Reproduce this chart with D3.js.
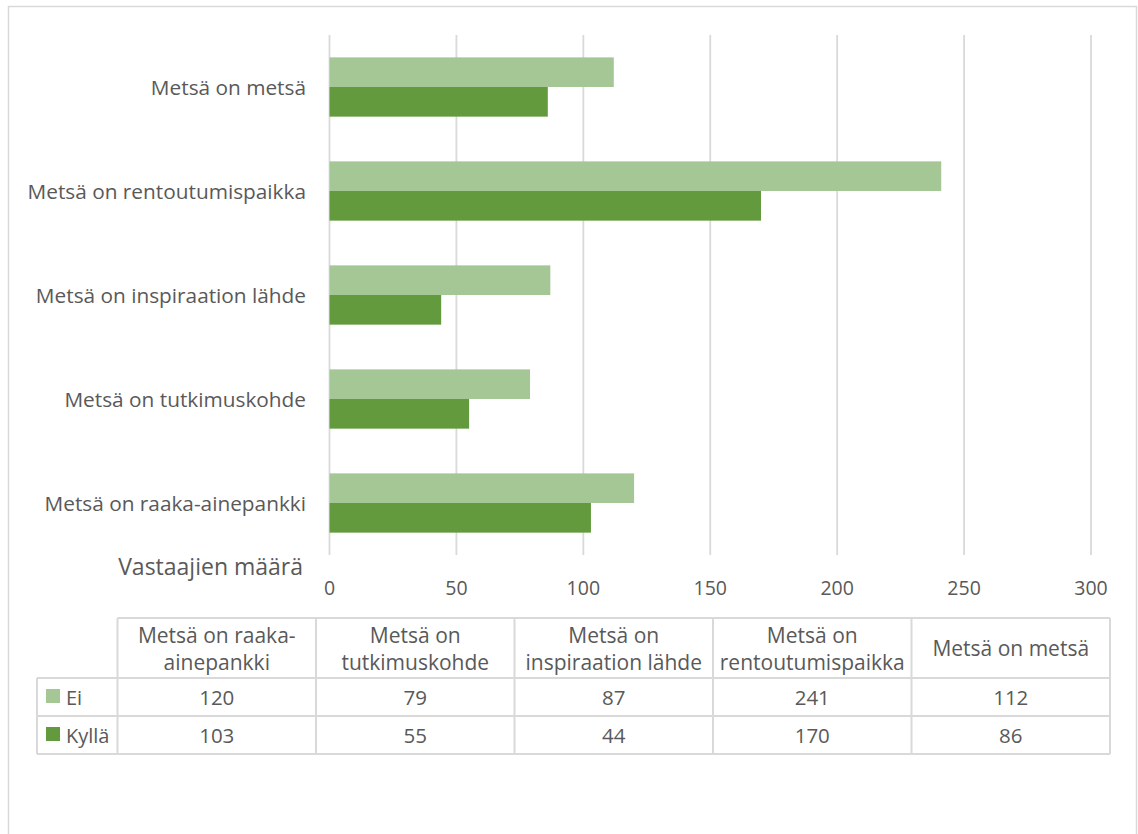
<!DOCTYPE html>
<html><head><meta charset="utf-8">
<script src="https://cdn.jsdelivr.net/npm/d3@7/dist/d3.min.js"></script>
<style>body{margin:0;background:#fff}svg{display:block}text{font-family:"Open Sans","Noto Sans",sans-serif;fill:#595959}</style>
</head><body><svg id="c" width="1138" height="834"></svg>
<script>
const categories = ["Metsä on raaka-ainepankki","Metsä on tutkimuskohde","Metsä on inspiraation lähde","Metsä on rentoutumispaikka","Metsä on metsä"];
const headerLines = [["Metsä on raaka-","ainepankki"],["Metsä on","tutkimuskohde"],["Metsä on","inspiraation lähde"],["Metsä on","rentoutumispaikka"],["Metsä on metsä"]];
const seriesNames = ["Ei","Kyllä"];
const eiValues = [120,79,87,241,112];
const kyllaValues = [103,55,44,170,86];
const xTicks = [0,50,100,150,200,250,300];
const axisTitle = "Vastaajien määrä";
const colors = {"Ei":"#A5C795","Kyllä":"#629A3D"};

const series = [{name:"Ei",values:eiValues},{name:"Kyllä",values:kyllaValues}];
const svg = d3.select("#c");
const grid = "#D9D9D9";

svg.append("rect").attr("x",8.5).attr("y",6.5).attr("width",1128).attr("height",900)
  .attr("fill","#fff").attr("stroke",grid).attr("stroke-width",1.5);

const x = d3.scaleLinear().domain([0,300]).range([329.5,1091]);
const y = d3.scaleBand().domain(categories.slice().reverse()).range([35,555]).paddingInner(0.43).paddingOuter(0.215);
const ys = d3.scaleBand().domain(seriesNames).range([0,y.bandwidth()]);

svg.append("g").selectAll("line").data(xTicks).join("line")
  .attr("x1",d=>x(d)).attr("x2",d=>x(d)).attr("y1",35).attr("y2",555)
  .attr("stroke",grid).attr("stroke-width",1.8);

series.forEach(s=>{
  svg.append("g").selectAll("rect").data(categories.map((c,i)=>({c,v:s.values[i]}))).join("rect")
    .attr("x",x(0)).attr("y",d=>y(d.c)+ys(s.name)).attr("width",d=>x(d.v)-x(0))
    .attr("height",ys.bandwidth()).attr("fill",colors[s.name]);
});

svg.append("g").selectAll("text").data(xTicks).join("text")
  .attr("x",d=>x(d)).attr("y",587).attr("text-anchor","middle").attr("dominant-baseline","central")
  .style("font-size","19.5px").text(d=>d);

svg.append("g").selectAll("text").data(categories).join("text")
  .attr("x",306).attr("y",d=>y(d)+y.bandwidth()/2).attr("text-anchor","end").attr("dominant-baseline","central")
  .style("font-size","20.8px").text(d=>d);

svg.append("text").attr("x",303).attr("y",566).attr("text-anchor","end").attr("dominant-baseline","central")
  .style("font-size","23px").text(axisTitle);

const tx = d3.scaleBand().domain(categories).range([117.5,1110]);
const rowTop = [618,678,716,754];
const tg = svg.append("g");
tg.append("line").attr("x1",117.5).attr("x2",1110).attr("y1",rowTop[0]).attr("y2",rowTop[0]).attr("stroke",grid).attr("stroke-width",2);
rowTop.slice(1).forEach(r=>tg.append("line").attr("x1",37).attr("x2",1110).attr("y1",r).attr("y2",r).attr("stroke",grid).attr("stroke-width",2));
tg.append("line").attr("x1",37).attr("x2",37).attr("y1",rowTop[1]).attr("y2",rowTop[3]).attr("stroke",grid).attr("stroke-width",2);
categories.forEach(c=>tg.append("line").attr("x1",tx(c)).attr("x2",tx(c)).attr("y1",rowTop[0]).attr("y2",rowTop[3]).attr("stroke",grid).attr("stroke-width",2));
tg.append("line").attr("x1",1110).attr("x2",1110).attr("y1",rowTop[0]).attr("y2",rowTop[3]).attr("stroke",grid).attr("stroke-width",2);

categories.forEach((c,i)=>{
  const lines = headerLines[i];
  const cy = (rowTop[0]+rowTop[1])/2;
  const lh = 27;
  lines.forEach((ln,j)=>{
    tg.append("text").attr("x",tx(c)+tx.bandwidth()/2).attr("y",cy+(j-(lines.length-1)/2)*lh)
      .attr("text-anchor","middle").attr("dominant-baseline","central").style("font-size","21px").text(ln);
  });
});
series.forEach((s,r)=>{
  const cy = (rowTop[r+1]+rowTop[r+2])/2;
  tg.append("rect").attr("x",46).attr("y",cy-8).attr("width",14).attr("height",14).attr("fill",colors[s.name]);
  tg.append("text").attr("x",66).attr("y",cy).attr("dominant-baseline","central").style("font-size","20px").text(s.name);
  categories.forEach((c,i)=>{
    tg.append("text").attr("x",tx(c)+tx.bandwidth()/2).attr("y",cy).attr("text-anchor","middle")
      .attr("dominant-baseline","central").style("font-size","20.5px").text(s.values[i]);
  });
});
</script></body></html>
